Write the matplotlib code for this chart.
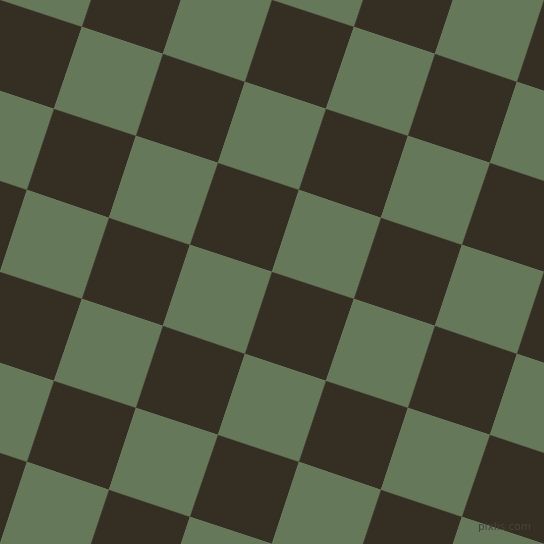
import numpy as np
import matplotlib
matplotlib.use("Agg")
import matplotlib.pyplot as plt
from matplotlib.colors import ListedColormap

# Checkerboard description
cell_colors = ["#352E22", "#65785A"]      # dark, green
tile_pattern = [[0, 1], [1, 0]]            # repeating 2x2 tile
step_a = (81.6, 27.2)                      # lattice step along one edge (px)
step_b = (-27.2, 81.6)                     # lattice step along the other edge (px)
n_range = list(range(-8, 12))
watermark = "pixlis.com"

fig = plt.figure(figsize=(5.44, 5.44), dpi=100)
ax = fig.add_axes([0, 0, 1, 1])
ax.set_xlim(0, 544)
ax.set_ylim(544, 0)
ax.axis("off")

idx = np.array(n_range + [n_range[-1] + 1])
I, J = np.meshgrid(idx, idx, indexing="ij")
X = I * step_a[0] + J * step_b[0]
Y = I * step_a[1] + J * step_b[1]
tile = np.array(tile_pattern)
C = np.array([[tile[i % 2][j % 2] for j in n_range] for i in n_range])

ax.pcolormesh(X, Y, C, cmap=ListedColormap(cell_colors), vmin=0, vmax=1,
              shading="flat", edgecolors="face", linewidth=0.3, antialiased=True)

ax.text(504, 527, watermark, color="#46433A", fontsize=7.5, ha="center",
        va="center", family="DejaVu Sans")

fig.savefig("out.png", dpi=100)
